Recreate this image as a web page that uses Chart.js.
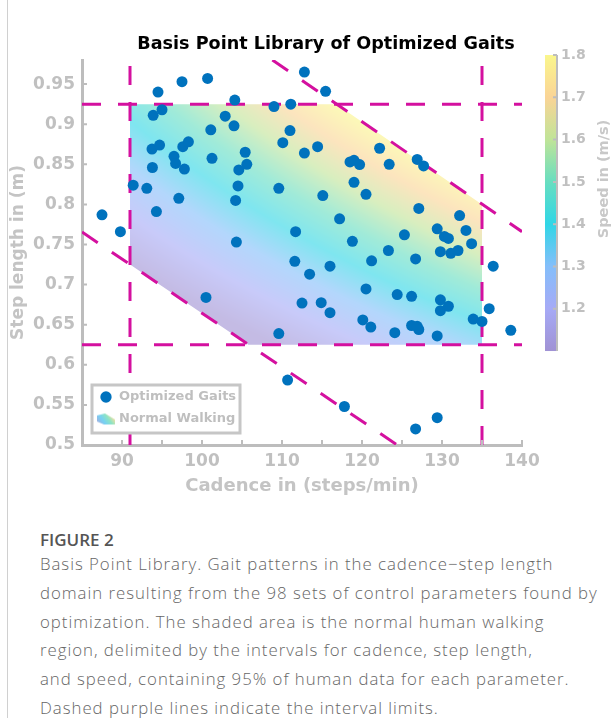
<!DOCTYPE html>
<html>
<head>
<meta charset="utf-8">
<script src="https://cdn.jsdelivr.net/npm/chart.js@4.4.1/dist/chart.umd.min.js"></script>
<style>
  html, body { margin: 0; padding: 0; background: #fff; }
  #page { position: relative; width: 615px; height: 718px; overflow: hidden; }
  #frame { position: absolute; left: 7px; top: 0; width: 1px; height: 718px; background: #d0d0d0; }
  #wrap { position: absolute; left: 0; top: 0; width: 615px; height: 510px; overflow: hidden; }
  #caption { position: absolute; left: 40px; top: 527px; color: #666;
             font-family: "Open Sans", sans-serif; font-weight: 300; font-size: 16.8px; letter-spacing: 0.98px;
             line-height: 28.8px; white-space: nowrap; }
  #caption .fig { font-weight: 600; font-size: 17px; letter-spacing: 0; color: #555; line-height: 26px; margin-bottom: -3px; }
</style>
</head>
<body>
<div id="page">
  <div id="wrap"><canvas id="gaitChart" width="652" height="510"></canvas></div>
  <div id="frame"></div>
  <div id="caption">
    <div class="fig">FIGURE 2</div>
    <div>Basis Point Library. Gait patterns in the cadence−step length</div>
    <div>domain resulting from the 98 sets of control parameters found by</div>
    <div>optimization. The shaded area is the normal human walking</div>
    <div>region, delimited by the intervals for cadence, step length,</div>
    <div>and speed, containing 95% of human data for each parameter.</div>
    <div>Dashed purple lines indicate the interval limits.</div>
  </div>
</div>
<script>
// optimized gaits (cadence in steps/min, step length in m)
const cadence = [
  87.5, 89.8, 91.4, 93.1, 93.8, 93.75, 93.9, 94.3, 94.5, 94.7,
  95.0, 96.5, 96.7, 97.1, 97.5, 97.6, 97.8, 98.3, 100.5, 100.7,
  101.1, 101.25, 102.9, 104.0, 104.1, 104.2, 104.5, 104.6, 104.3, 105.4,
  105.6, 109.0, 109.6, 109.6, 110.1, 110.7, 111.0, 111.1, 111.6, 111.7,
  112.5, 112.8, 112.8, 113.45, 114.45, 114.9, 115.1, 115.45, 116.0, 116.0,
  117.2, 117.8, 118.5, 118.8, 119.0, 119.0, 119.7, 120.1, 120.5, 120.5,
  121.1, 121.2, 122.2, 123.3, 123.4, 124.1, 124.4, 125.3, 126.2, 126.2,
  126.7, 126.7, 126.9, 126.9, 127.1, 127.1, 127.7, 129.4, 129.4, 129.4,
  129.8, 129.8, 129.8, 130.3, 130.8, 130.8, 131.1, 132.0, 132.2, 133.0,
  133.7, 133.9, 135.0, 135.9, 136.4, 138.6
];
const stepLength = [
  0.787, 0.766, 0.824, 0.820, 0.846, 0.869, 0.911, 0.791, 0.940, 0.874,
  0.918, 0.860, 0.851, 0.8075, 0.953, 0.872, 0.844, 0.878, 0.684, 0.957,
  0.893, 0.8575, 0.910, 0.898, 0.930, 0.805, 0.823, 0.843, 0.753, 0.865,
  0.850, 0.922, 0.820, 0.639, 0.877, 0.581, 0.892, 0.925, 0.729, 0.766,
  0.677, 0.965, 0.864, 0.713, 0.872, 0.6775, 0.811, 0.941, 0.723, 0.665,
  0.782, 0.548, 0.853, 0.754, 0.855, 0.8275, 0.8496, 0.656, 0.8125, 0.6946,
  0.647, 0.7296, 0.870, 0.7425, 0.850, 0.640, 0.6875, 0.762, 0.6854, 0.649,
  0.732, 0.520, 0.856, 0.648, 0.644, 0.795, 0.848, 0.7696, 0.636, 0.534,
  0.741, 0.681, 0.6675, 0.760, 0.7575, 0.673, 0.739, 0.7425, 0.786, 0.7675,
  0.751, 0.657, 0.654, 0.670, 0.723, 0.643
];

// normal walking limits
const cadenceLimits = [91, 135];
const stepLimits = [0.625, 0.925];
const fastLimitCadence = [108.8, 140];
const fastLimitStep = [0.98, 0.766];
const slowLimitCadence = [85, 124.4];
const slowLimitStep = [0.7655, 0.5];
const regionCadence = [91, 116.8, 135, 135, 105.8, 91, 91];
const regionStep = [0.925, 0.925, 0.8, 0.625, 0.625, 0.725, 0.925];

const cadenceRange = [85, 140];
const stepRange = [0.5, 0.98];
const speedRange = [1.1, 1.8];
const speedTicks = [1.2, 1.3, 1.4, 1.5, 1.6, 1.7, 1.8];

const LIMIT_COLOR = "#d4109f";
const DOT_COLOR = "#0072bd";
const GRAY = "#bdbdbd";
const FONT = "DejaVu Sans";

const SPEED_COLORS = [
  [1.10, [160, 146, 212]],
  [1.20, [166, 170, 246]],
  [1.30, [132, 190, 250]],
  [1.40, [48, 214, 230]],
  [1.50, [104, 222, 192]],
  [1.60, [192, 228, 152]],
  [1.70, [250, 212, 150]],
  [1.80, [250, 246, 140]]
];

function speedColor(v, wash) {
  let i = 0;
  if (v <= SPEED_COLORS[0][0]) i = 0;
  else if (v >= SPEED_COLORS[SPEED_COLORS.length - 1][0]) i = SPEED_COLORS.length - 2;
  else while (SPEED_COLORS[i + 1][0] < v) i++;
  const [v0, c0] = SPEED_COLORS[i];
  const [v1, c1] = SPEED_COLORS[i + 1];
  const t = Math.min(1, Math.max(0, (v - v0) / (v1 - v0)));
  return c0.map((c, k) => {
    const m = c + (c1[k] - c) * t;
    return Math.round(m + (255 - m) * wash);
  });
}

// fill of the walking region, coloured by speed = cadence * step / 60
let regionPattern = null;
let patternKey = "";
function regionFill(context) {
  const chart = context.chart;
  const area = chart.chartArea;
  if (!area || !chart.scales.x || !chart.scales.y) return "rgba(0,0,0,0)";
  const key = [chart.width, chart.height, area.left, area.top, area.right, area.bottom].join();
  if (regionPattern && key === patternKey) return regionPattern;
  const xs = chart.scales.x, ys = chart.scales.y;
  const off = document.createElement("canvas");
  off.width = chart.width;
  off.height = chart.height;
  const octx = off.getContext("2d");
  const img = octx.createImageData(off.width, off.height);
  for (let py = Math.floor(area.top); py < Math.ceil(area.bottom); py++) {
    const s = ys.getValueForPixel(py + 0.5);
    for (let px = Math.floor(area.left); px < Math.ceil(area.right); px++) {
      const c = xs.getValueForPixel(px + 0.5);
      const rgb = speedColor(c * s / 60, 0.38);
      const i = (py * off.width + px) * 4;
      img.data[i] = rgb[0];
      img.data[i + 1] = rgb[1];
      img.data[i + 2] = rgb[2];
      img.data[i + 3] = 255;
    }
  }
  octx.putImageData(img, 0, 0);
  regionPattern = chart.ctx.createPattern(off, "no-repeat");
  patternKey = key;
  return regionPattern;
}

// little gradient patch for the legend
function makePatch() {
  const c = document.createElement("canvas");
  c.width = 18;
  c.height = 13;
  const g = c.getContext("2d");
  const grad = g.createLinearGradient(0, 13, 18, 0);
  [0, 0.35, 0.6, 0.8, 1].forEach(t => {
    const rgb = speedColor(1.1 + t * 0.7, 0.15);
    grad.addColorStop(t, `rgb(${rgb.join(",")})`);
  });
  g.fillStyle = grad;
  g.beginPath();
  g.moveTo(0, 3); g.lineTo(8, 1); g.lineTo(18, 7); g.lineTo(18, 12);
  g.lineTo(7, 12); g.lineTo(0, 9);
  g.closePath();
  g.fill();
  return c;
}

function limitLine(label, xs, ys) {
  return {
    type: "scatter",
    label,
    data: xs.map((x, i) => ({ x, y: ys[i] })),
    showLine: true,
    borderColor: LIMIT_COLOR,
    borderWidth: 3,
    borderDash: [19, 17],
    pointRadius: 0,
    fill: false,
    order: 1
  };
}

const extras = {
  id: "extras",
  afterLayout(chart) {
    const lg = chart.legend, ca = chart.chartArea;
    if (!lg) return;
    lg.left = ca.left + 8.5;
    lg.right = ca.right;
    lg.top = ca.top;
    lg.bottom = ca.bottom - 10.5;
  },
  afterDatasetsDraw(chart) {
    const ctx = chart.ctx, ca = chart.chartArea;
    const xs = chart.scales.x, ys = chart.scales.y;
    ctx.save();
    // inward ticks
    ctx.strokeStyle = GRAY;
    ctx.lineWidth = 2;
    ctx.beginPath();
    xs.ticks.forEach(t => {
      if (t.value <= cadenceRange[0]) return;
      const px = xs.getPixelForValue(t.value);
      ctx.moveTo(px, ca.bottom);
      ctx.lineTo(px, ca.bottom - 5);
    });
    ys.ticks.forEach(t => {
      if (t.value <= stepRange[0] || t.value > 0.96) return;
      const py = ys.getPixelForValue(t.value);
      ctx.moveTo(ca.left, py);
      ctx.lineTo(ca.left + 5, py);
    });
    ctx.stroke();
    // legend frame, then legend on top
    const fx = ca.left + 10, fy = ca.bottom - 60;
    ctx.fillStyle = "#fff";
    ctx.fillRect(fx, fy, 148, 48);
    ctx.strokeStyle = "#c6c6c6";
    ctx.lineWidth = 3;
    ctx.strokeRect(fx, fy, 148, 48);
    ctx.restore();
    if (chart.legend) chart.legend.draw();
  },
  afterDraw(chart) {
    const ctx = chart.ctx, ca = chart.chartArea;
    const bx = ca.right + 23, bw = 12, top = ca.top - 5, h = 296;
    const yOf = v => top + h - (v - speedRange[0]) / (speedRange[1] - speedRange[0]) * h;
    ctx.save();
    const grad = ctx.createLinearGradient(0, top + h, 0, top);
    SPEED_COLORS.forEach(([v]) => {
      const t = (v - speedRange[0]) / (speedRange[1] - speedRange[0]);
      if (t < 0 || t > 1) return;
      grad.addColorStop(t, `rgb(${speedColor(v, 0).join(",")})`);
    });
    ctx.fillStyle = grad;
    ctx.fillRect(bx, top, bw, h);
    ctx.strokeStyle = GRAY;
    ctx.lineWidth = 2;
    ctx.beginPath();
    ctx.moveTo(bx + bw, top);
    ctx.lineTo(bx + bw, top + h);
    speedTicks.forEach(v => {
      ctx.moveTo(bx + bw, yOf(v));
      ctx.lineTo(bx + bw - 4, yOf(v));
    });
    ctx.stroke();
    ctx.fillStyle = "#c0c0c0";
    ctx.font = `bold 14px "${FONT}"`;
    ctx.textAlign = "left";
    ctx.textBaseline = "middle";
    speedTicks.forEach(v => ctx.fillText(v.toFixed(1), bx + bw + 4, yOf(v)));
    ctx.translate(ca.right + 82, 179);
    ctx.rotate(-Math.PI / 2);
    ctx.textAlign = "center";
    ctx.fillStyle = "#c8c8c8";
    ctx.font = `bold 14.5px "${FONT}"`;
    ctx.fillText("Speed in (m/s)", 0, 0);
    ctx.restore();
  }
};

const patch = makePatch();

new Chart(document.getElementById("gaitChart"), {
  type: "scatter",
  data: {
    datasets: [
      {
        label: "Optimized Gaits",
        data: cadence.map((x, i) => ({ x, y: stepLength[i] })),
        backgroundColor: DOT_COLOR,
        borderWidth: 0,
        pointRadius: 5.5,
        pointStyle: "circle",
        order: 0
      },
      {
        label: "Normal Walking",
        data: regionCadence.map((x, i) => ({ x, y: regionStep[i] })),
        showLine: true,
        fill: "shape",
        backgroundColor: regionFill,
        borderWidth: 0,
        pointRadius: 0,
        pointStyle: patch,
        order: 2
      },
      limitLine("cadence min", [cadenceLimits[0], cadenceLimits[0]], stepRange),
      limitLine("cadence max", [cadenceLimits[1], cadenceLimits[1]], stepRange),
      limitLine("step min", cadenceRange, [stepLimits[0], stepLimits[0]]),
      limitLine("step max", cadenceRange, [stepLimits[1], stepLimits[1]]),
      limitLine("speed max", fastLimitCadence, fastLimitStep),
      limitLine("speed min", slowLimitCadence, slowLimitStep)
    ]
  },
  options: {
    responsive: false,
    animation: false,
    layout: { padding: 0 },
    scales: {
      x: {
        type: "linear",
        min: cadenceRange[0],
        max: cadenceRange[1],
        afterFit: s => { s.height = 65; },
        grid: { display: false, drawTicks: false },
        border: { display: true, color: GRAY, width: 3 },
        ticks: {
          stepSize: 5,
          autoSkip: false,
          maxRotation: 0,
          padding: 6,
          color: "#c0c0c0",
          font: { family: FONT, size: 17, weight: "bold" },
          callback: v => (v % 10 === 0 ? String(v) : "")
        },
        title: {
          display: true,
          text: "Cadence in (steps/min)",
          color: "#c4c4c4",
          font: { family: FONT, size: 18, weight: "bold" },
          padding: { top: 0, bottom: 12.5 }
        }
      },
      y: {
        type: "linear",
        min: stepRange[0],
        max: stepRange[1],
        afterFit: s => { s.width = 82; },
        grid: { display: false, drawTicks: false },
        border: { display: true, color: GRAY, width: 3 },
        ticks: {
          stepSize: 0.05,
          autoSkip: false,
          padding: 7,
          color: "#c0c0c0",
          font: { family: FONT, size: 17, weight: "bold" },
          callback: v => {
            const r = Math.round(v * 100) / 100;
            return r > 0.96 ? "" : String(r);
          }
        },
        title: {
          display: true,
          text: "Step length in (m)",
          color: "#c4c4c4",
          font: { family: FONT, size: 17, weight: "bold" },
          padding: { top: 8, bottom: 0 }
        }
      },
      speed: {
        type: "linear",
        position: "right",
        min: speedRange[0],
        max: speedRange[1],
        afterFit: s => { s.width = 130; },
        grid: { display: false, drawTicks: false },
        border: { display: false },
        ticks: { display: false }
      }
    },
    plugins: {
      title: {
        display: true,
        text: "Basis Point Library of Optimized Gaits",
        color: "#000",
        font: { family: FONT, size: 17.6, weight: "bold", lineHeight: 1.2 },
        padding: { top: 34, bottom: 4.9 }
      },
      legend: {
        position: "chartArea",
        align: "end",
        labels: {
          usePointStyle: true,
          boxWidth: 14,
          boxHeight: 8,
          padding: 9,
          color: "#bfbfbf",
          font: { family: FONT, size: 13, weight: "bold" },
          filter: item => item.text === "Optimized Gaits" || item.text === "Normal Walking"
        }
      },
      tooltip: { enabled: false }
    }
  },
  plugins: [extras]
});
</script>
</body>
</html>
